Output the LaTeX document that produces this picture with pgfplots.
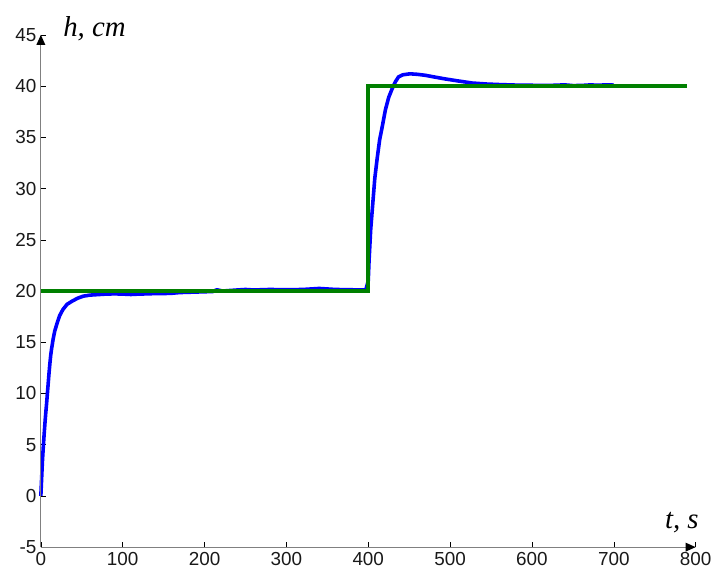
\documentclass[border=0pt]{standalone}
\usepackage{fontspec}
\setmainfont{Liberation Sans}
\newfontfamily\tnr{Liberation Serif}
\usepackage{pgfplots}
\usetikzlibrary{arrows.meta}
\pgfplotsset{compat=1.18}
\definecolor{mblue}{RGB}{0,0,255}
\definecolor{mgreen}{RGB}{0,128,0}
\begin{document}
\begin{tikzpicture}
\begin{axis}[
  scale only axis, width=657bp, height=514bp,
  xmin=0, xmax=800, ymin=-5, ymax=45,
  axis lines=left,
  axis line style={draw=none},
  xtick={0,100,...,800}, ytick={-5,0,...,45},
  tick align=inside, major tick length=5bp,
  tick style={black, line width=0.5pt},
  /pgf/number format/assume math mode=true,
  ticklabel style={font=\fontsize{19}{22}\selectfont, text=black!90},
  xticklabel style={yshift=-1.5bp},
  yticklabel style={xshift=-1bp},
  clip=false,
]
\addplot[mblue, line width=3.6bp, line join=round] coordinates {
(0,0)(1,1.8)(2,3.5)(3,4.8)(4,6)(5,7.1)(6,8.1)(7,9)(8,10)(9,11)(10,12)(11,12.9)(12,13.7)(13,14.3)(15,15.3)(17,16.1)(20,16.9)(23,17.6)(27,18.2)(32,18.7)(38,19.0)(45,19.3)(52,19.5)(60,19.6)(70,19.65)(80,19.7)(90,19.72)(100,19.7)(110,19.66)(120,19.7)(130,19.72)(140,19.75)(150,19.75)(160,19.78)(170,19.85)(190,19.9)(210,19.95)(215,20.12)(222,20.0)(240,20.1)(250,20.15)(260,20.1)(280,20.15)(300,20.12)(320,20.15)(340,20.25)(350,20.2)(360,20.15)(380,20.12)(397,20.1)(400,21)(401,23)(403,26)(405,28)(408,31)(411,33)(414,34.8)(417,36)(421,37.7)(425,38.9)(429,39.7)(433,40.4)(437,40.9)(442,41.1)(451,41.2)(460,41.15)(470,41.05)(480,40.9)(494,40.7)(510,40.5)(527,40.3)(545,40.2)(560,40.15)(580,40.1)(600,40.08)(620,40.06)(640,40.12)(650,40.05)(660,40.06)(672,40.12)(680,40.08)(690,40.12)(700,40.1)
};
\addplot[mgreen, line width=4.4bp, line join=miter] coordinates {
(0,20)(400,20)(400,40)(790,40)
};
\node[anchor=base west, font=\tnr\itshape\fontsize{29}{32}\selectfont, inner sep=0pt] at (rel axis cs:0.034,0.996) {h, cm};
\node[anchor=base west, font=\tnr\itshape\fontsize{29}{32}\selectfont, inner sep=0pt] at (rel axis cs:0.953,0.037) {t, s};
\coordinate (org) at (rel axis cs:0,0);
\coordinate (xend) at (rel axis cs:1,0);
\coordinate (yend) at (rel axis cs:0,1);
\coordinate (bbsw) at (rel axis cs:-0.0624,-0.0470);
\coordinate (bbne) at (rel axis cs:1.0250,1.0681);
\end{axis}
\draw[black!50, line width=0.9pt, shorten >=9bp] (org) -- (xend);
\draw[black!50, line width=0.9pt, shorten >=9bp] (org) -- (yend);
\fill[black] (xend) -- ++(-10bp,4.5bp) -- ++(0,-9bp) -- cycle;
\fill[black] (yend) -- ++(4.5bp,-10bp) -- ++(-9bp,0) -- cycle;
\pgfresetboundingbox
\path[use as bounding box] (bbsw) rectangle (bbne);
\end{tikzpicture}
\end{document}
